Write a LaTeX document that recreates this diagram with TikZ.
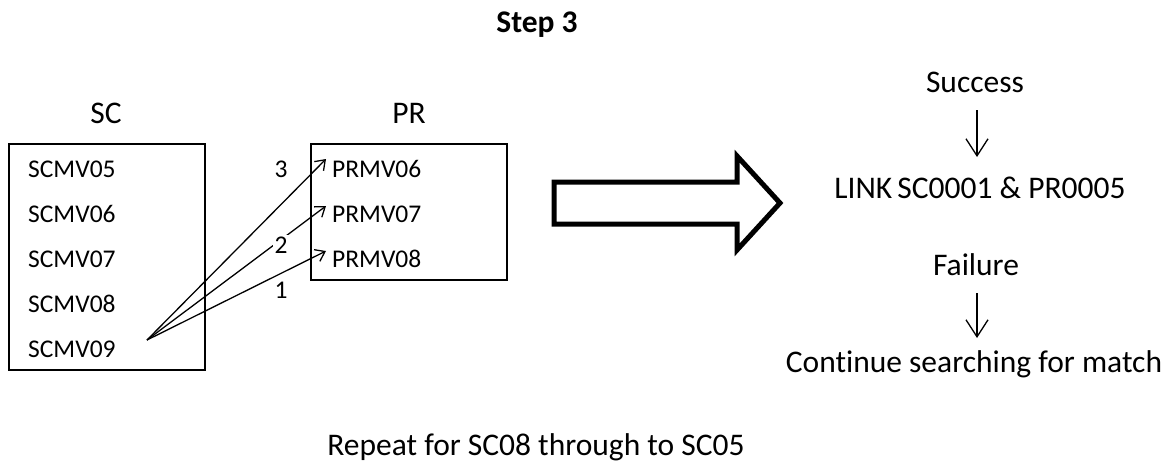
\documentclass[tikz,border=0pt]{standalone}
\usepackage{fontspec}
\setmainfont{Carlito}[Ligatures=NoCommon]
\usetikzlibrary{arrows.meta}
\begin{document}
\begin{tikzpicture}[x=1pt,y=-1pt,
  big/.style={font=\fontsize{31.5}{36}\selectfont, inner sep=0pt, anchor=base},
  small/.style={font=\fontsize{25.5}{30}\selectfont, inner sep=0pt, anchor=base west},
  num/.style={font=\fontsize{25.5}{30}\selectfont, inner sep=1.5pt, anchor=base, fill=white},
  box/.style={draw, line width=1.3pt},
  link/.style={line width=1.3pt, -{Straight Barb[length=9pt,width=13pt,line width=1.3pt]}},
  down/.style={line width=1.3pt, -{Straight Barb[length=17pt,width=22pt,line width=1.3pt]}},
  block/.style={draw, line width=5pt, miter limit=10, line join=miter}
]
\useasboundingbox (0,0) rectangle (1172,463);
\node[big, font=\fontsize{31.5}{36}\selectfont\bfseries] (title) at (537,32) {Step 3};
\node[big] (sclab) at (106,123) {SC};
\node[big] (prlab) at (409,123) {PR};
\draw[box] (9,144) rectangle (205,370);
\draw[box] (311,144) rectangle (507,280);
\node[small] (s5) at (28,177) {SCMV05};
\node[small] (s6) at (28,222.5) {SCMV06};
\node[small] (s7) at (28,267.5) {SCMV07};
\node[small] (s8) at (28,312.5) {SCMV08};
\node[small] (s9) at (28,357.5) {SCMV09};
\node[small] (p6) at (332,177) {PRMV06};
\node[small] (p7) at (332,222.5) {PRMV07};
\node[small] (p8) at (332,267.5) {PRMV08};
\coordinate (o) at (147,340);
\coordinate (t6) at (326,159);
\coordinate (t7) at (326,206);
\coordinate (t8) at (326,251);
\draw[link] (o) -- (t6);
\draw[link] (o) -- (t7);
\draw[link] (o) -- (t8);
\node[num] (n3) at (281,177.5) {3};
\node[num] (n2) at (281,253) {2};
\node[num] (n1) at (281,298) {1};
\draw[block] (554,182) -- (737,182) -- (737,156) -- (780,203) -- (737,250) -- (737,224) -- (554,224) -- cycle;
\node[big] (succ) at (975,92) {Success};
\node[big] (link) at (980,198) {LINK\hspace{-2pt} SC0001 \& PR0005};
\node[big] (fail) at (976,275) {Failure};
\node[big] (cont) at (974,372) {Continue searching for match};
\draw[down] (977,110) -- (977,157);
\draw[down] (977,293) -- (977,338);
\node[big] (rep) at (536,455) {Repeat for SC08 through to SC05};
\end{tikzpicture}
\end{document}
